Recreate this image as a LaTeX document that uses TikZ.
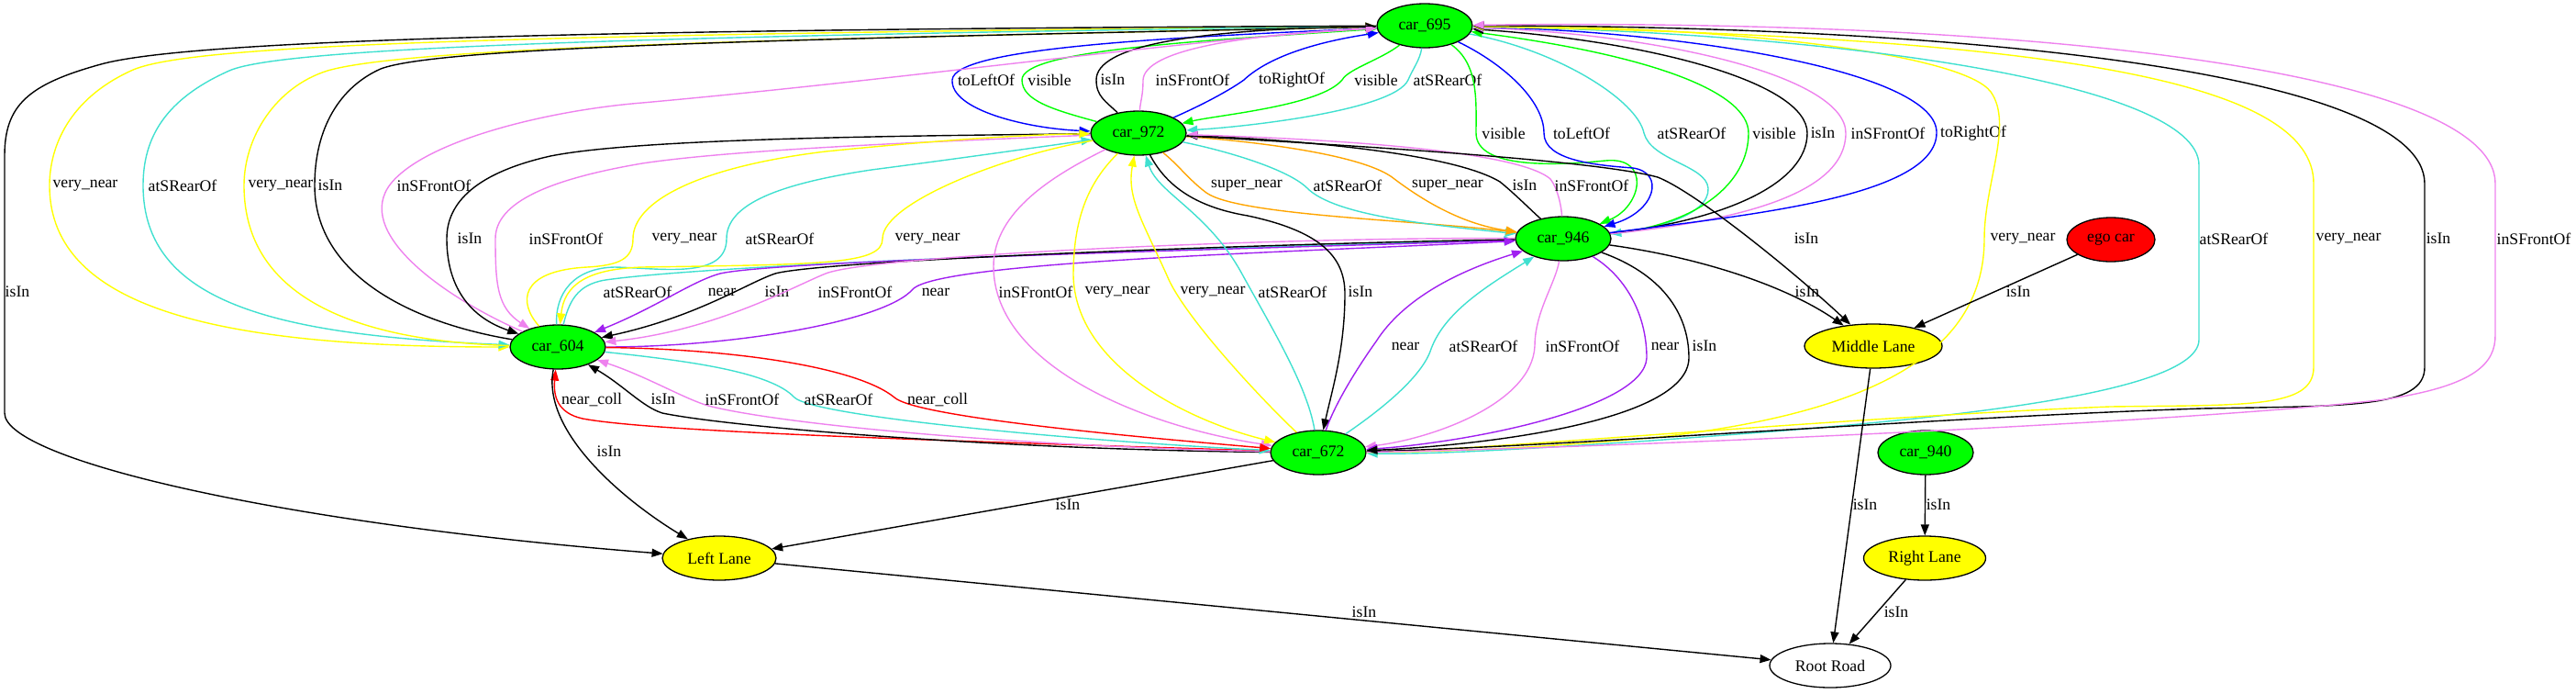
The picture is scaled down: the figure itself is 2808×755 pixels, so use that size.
\documentclass[tikz,border=0pt]{standalone}
\usepackage{fontspec}
\setmainfont{Liberation Serif}
\usetikzlibrary{shapes.geometric,arrows.meta}
\definecolor{gvgreen}{RGB}{0,255,0}
\definecolor{gvblue}{RGB}{0,0,255}
\definecolor{gvturq}{RGB}{64,224,208}
\definecolor{gvviolet}{RGB}{238,130,238}
\definecolor{gvyellow}{RGB}{255,255,0}
\definecolor{gvorange}{RGB}{255,165,0}
\definecolor{gvpurple}{RGB}{160,32,240}
\definecolor{gvred}{RGB}{255,0,0}
\begin{document}
\begin{tikzpicture}[x=1pt,y=-1pt,
  every node/.style={font=\fontsize{17.7}{20}\selectfont},
  gvnode/.style={ellipse, draw=black, text=black, line width=1.3pt, inner sep=0pt, minimum height=48pt},
  carnode/.style={gvnode, fill=gvgreen, minimum width=104pt},
  lanenode/.style={gvnode, fill=gvyellow},
  rel/.style={line width=1.4pt, -{Triangle[length=12pt,width=9pt]}},
  lbl/.style={inner sep=0pt, anchor=center, text=black}]
\useasboundingbox (0,0) rectangle (2808,755);
% nodes
\node[carnode] (c695) at (1553,28) {car\_695};
\node[carnode] (c972) at (1241,145) {car\_972};
\node[carnode] (c946) at (1704,260) {car\_946};
\node[gvnode, fill=gvred, minimum width=96pt] (ego) at (2301,261) {ego car};
\node[carnode] (c604) at (608,378) {car\_604};
\node[lanenode, minimum width=150pt] (mid) at (2042,377) {Middle Lane};
\node[carnode] (c672) at (1437,493) {car\_672};
\node[carnode] (c940) at (2099,493) {car\_940};
\node[lanenode, minimum width=124pt] (leftl) at (784,608) {Left Lane};
\node[lanenode, minimum width=133pt] (rightl) at (2098,608) {Right Lane};
\node[gvnode, fill=white, minimum width=132pt] (root) at (1995,725) {Root Road};
% car_695 <-> car_972
\draw[rel, gvblue] (c695) .. controls (1300,40) and (1040,50) .. (1038,87) .. controls (1036,120) and (1120,140) .. (c972) node[lbl, at={(1075,87)}] (lG1) {toLeftOf};
\draw[rel, gvgreen] (c972) .. controls (1150,120) and (1114,110) .. (1114,87) .. controls (1114,55) and (1300,45) .. (c695) node[lbl, at={(1144,87)}] (lG2) {visible};
\draw[rel] (c972) .. controls (1205,110) and (1195,105) .. (1195,87) .. controls (1195,50) and (1300,32) .. (c695) node[lbl, at={(1213,87)}] (lG3) {isIn};
\draw[rel, gvviolet] (c972) .. controls (1243,110) and (1246,105) .. (1246,87) .. controls (1248,55) and (1350,38) .. (c695) node[lbl, at={(1300,87)}] (lG4) {inSFrontOf};
\draw[rel, gvblue] (c972) .. controls (1320,110) and (1345,95) .. (1356,87) .. controls (1385,60) and (1440,45) .. (c695) node[lbl, at={(1408,87)}] (lG5) {toRightOf};
\draw[rel, gvgreen] (c695) .. controls (1505,65) and (1470,75) .. (1463,87) .. controls (1440,115) and (1330,125) .. (c972) node[lbl, at={(1500,87)}] (lG6) {visible};
\draw[rel, gvturq] (c695) .. controls (1548,65) and (1540,75) .. (1535,87) .. controls (1520,120) and (1360,138) .. (c972) node[lbl, at={(1578,87)}] (lG7) {atSRearOf};
% car_695 <-> car_946
\draw[rel, gvgreen] (c695) .. controls (1612,70) and (1609,110) .. (1609,145) .. controls (1609,185) and (1700,180) .. (1750,175) .. controls (1800,170) and (1790,225) .. (c946) node[lbl, at={(1639,145)}] (lF1) {visible};
\draw[rel, gvblue] (c695) .. controls (1640,70) and (1683,110) .. (1683,145) .. controls (1683,175) and (1740,180) .. (1780,183) .. controls (1815,188) and (1805,230) .. (c946) node[lbl, at={(1724,145)}] (lF2) {toLeftOf};
\draw[rel, gvturq] (c695) .. controls (1700,55) and (1785,110) .. (1792,145) .. controls (1800,175) and (1860,180) .. (1862,205) .. controls (1864,235) and (1800,250) .. (c946) node[lbl, at={(1844,145)}] (lF3) {atSRearOf};
\draw[rel, gvgreen] (c946) .. controls (1850,245) and (1906,200) .. (1906,145) .. controls (1906,100) and (1800,60) .. (c695) node[lbl, at={(1934,145)}] (lF4) {visible};
\draw[rel] (c946) .. controls (1880,240) and (1970,200) .. (1970,145) .. controls (1970,90) and (1800,45) .. (c695) node[lbl, at={(1987,145)}] (lF5) {isIn};
\draw[rel, gvviolet] (c946) .. controls (1900,240) and (2012,210) .. (2012,145) .. controls (2012,85) and (1820,38) .. (c695) node[lbl, at={(2058,145)}] (lF6) {inSFrontOf};
\draw[rel, gvblue] (c946) .. controls (1900,235) and (2110,215) .. (2111,145) .. controls (2113,80) and (1850,35) .. (c695) node[lbl, at={(2151,145)}] (lF7) {toRightOf};
% car_695 <-> car_672 (right)
\draw[rel, gvyellow] (c695) .. controls (1900,28) and (2140,60) .. (2170,100) .. controls (2195,135) and (2163,200) .. (2163,260) .. controls (2163,380) and (2050,450) .. (1800,477) .. controls (1650,490) and (1560,492) .. (c672) node[lbl, at={(2205,260)}] (lH2) {very\_near};
\draw[rel, gvturq] (c695) .. controls (2000,35) and (2397,90) .. (2397,180) -- (2397,370) .. controls (2397,440) and (2000,465) .. (1800,480) .. controls (1650,490) and (1560,495) .. (c672) node[lbl, at={(2435,260)}] (lH3) {atSRearOf};
\draw[rel, gvyellow] (c672) .. controls (1600,492) and (2000,455) .. (2300,443) .. controls (2450,441) and (2522,445) .. (2522,400) -- (2522,200) .. controls (2522,90) and (2250,40) .. (c695) node[lbl, at={(2560,260)}] (lH4) {very\_near};
\draw[rel] (c672) .. controls (1700,487) and (2100,455) .. (2400,445) .. controls (2560,442) and (2643,445) .. (2643,400) -- (2643,200) .. controls (2643,80) and (2150,28) .. (c695) node[lbl, at={(2658,260)}] (lH5) {isIn};
\draw[rel, gvviolet] (c672) .. controls (1700,490) and (2400,460) .. (2600,435) .. controls (2700,420) and (2720,395) .. (2720,365) -- (2720,200) .. controls (2720,75) and (2200,20) .. (c695) node[lbl, at={(2762,260)}] (lH6) {inSFrontOf};
% car_695 <-> car_604 (left)
\draw[rel, gvyellow] (c695) .. controls (500,38) and (200,50) .. (143,77) .. controls (75,108) and (54,160) .. (54,202) .. controls (54,340) and (250,378) .. (c604) node[lbl, at={(93,202)}] (lA1) {very\_near};
\draw[rel, gvturq] (c695) .. controls (600,40) and (300,55) .. (250,77) .. controls (180,108) and (156,150) .. (156,202) .. controls (156,330) and (300,365) .. (c604) node[lbl, at={(199,202)}] (lA2) {atSRearOf};
\draw[rel, gvyellow] (c604) .. controls (400,372) and (266,330) .. (266,202) .. controls (266,150) and (300,95) .. (357,77) .. controls (450,50) and (900,42) .. (c695) node[lbl, at={(306,202)}] (lA3) {very\_near};
\draw[rel] (c604) .. controls (450,352) and (343,300) .. (343,202) .. controls (343,140) and (370,95) .. (415,75) .. controls (480,50) and (900,42) .. (c695) node[lbl, at={(360,202)}] (lA4) {isIn};
\draw[rel, gvviolet] (c604) .. controls (480,322) and (385,252) .. (426,200) .. controls (465,152) and (600,120) .. (700,112) .. controls (1000,85) and (1300,42) .. (c695) node[lbl, at={(473,202)}] (lA5) {inSFrontOf};
\draw[rel] (c695) .. controls (600,32) and (200,45) .. (110,70) .. controls (30,92) and (5,115) .. (5,170) -- (5,450) .. controls (5,500) and (300,570) .. (leftl) node[lbl, at={(19,318)}] (lI10) {isIn};
% car_972 <-> car_946
\draw[rel, gvorange] (c972) .. controls (1285,180) and (1295,195) .. (1315,210) .. controls (1350,235) and (1550,240) .. (c946) node[lbl, at={(1359,202)}] (lS1) {super\_near};
\draw[rel, gvturq] (c972) .. controls (1340,165) and (1405,185) .. (1425,205) .. controls (1455,235) and (1560,245) .. (c946) node[lbl, at={(1469,202)}] (lS2) {atSRearOf};
\draw[rel, gvorange] (c972) .. controls (1380,155) and (1490,170) .. (1520,195) .. controls (1560,225) and (1600,245) .. (c946) node[lbl, at={(1578,202)}] (lS3) {super\_near};
\draw[rel] (c946) .. controls (1670,230) and (1650,210) .. (1635,198) .. controls (1580,165) and (1400,152) .. (c972) node[lbl, at={(1662,202)}] (lS4) {isIn};
\draw[rel, gvviolet] (c946) .. controls (1702,225) and (1698,205) .. (1690,195) .. controls (1650,160) and (1400,150) .. (c972) node[lbl, at={(1735,202)}] (lS5) {inSFrontOf};
\draw[rel] (c972) .. controls (1500,160) and (1740,175) .. (1807,193) .. controls (1850,210) and (1960,300) .. (mid) node[lbl, at={(1969,260)}] (lH1) {isIn};
% car_972 <-> car_604
\draw[rel] (c972) .. controls (1000,148) and (700,150) .. (600,170) .. controls (520,188) and (487,220) .. (487,260) .. controls (487,310) and (510,345) .. (c604) node[lbl, at={(512,260)}] (lB1) {isIn};
\draw[rel, gvviolet] (c972) .. controls (1000,155) and (800,163) .. (700,178) .. controls (600,195) and (540,220) .. (540,260) .. controls (540,310) and (542,335) .. (c604) node[lbl, at={(617,260)}] (lB2) {inSFrontOf};
\draw[rel, gvyellow] (c604) .. controls (565,330) and (565,295) .. (640,291) .. controls (675,289) and (690,282) .. (690,260) .. controls (690,220) and (760,182) .. (900,165) .. controls (1000,155) and (1100,147) .. (c972) node[lbl, at={(746,260)}] (lB3) {very\_near};
\draw[rel, gvturq] (c604) .. controls (605,320) and (625,292) .. (670,291) .. controls (720,292) and (792,305) .. (792,260) .. controls (792,222) and (850,200) .. (950,185) .. controls (1050,172) and (1120,162) .. (c972) node[lbl, at={(850,260)}] (lB4) {atSRearOf};
\draw[rel, gvyellow] (c972) .. controls (1100,168) and (962,220) .. (962,260) .. controls (962,288) and (900,288) .. (700,291) .. controls (640,293) and (615,310) .. (c604) node[lbl, at={(1011,260)}] (lB5) {very\_near};
% car_604 <-> car_946
\draw[rel, gvturq] (c604) .. controls (620,330) and (628,310) .. (660,305) .. controls (800,285) and (1400,268) .. (c946) node[lbl, at={(695,318)}] (lC1) {atSRearOf};
\draw[rel, gvpurple] (c946) .. controls (1400,270) and (850,283) .. (785,298) .. controls (755,306) and (715,335) .. (c604) node[lbl, at={(787,318)}] (lC2) {near};
\draw[rel] (c946) .. controls (1400,265) and (900,283) .. (845,298) .. controls (815,308) and (760,345) .. (c604) node[lbl, at={(847,318)}] (lC3) {isIn};
\draw[rel, gvviolet] (c946) .. controls (1400,258) and (950,278) .. (900,298) .. controls (865,312) and (780,360) .. (c604) node[lbl, at={(932,318)}] (lC4) {inSFrontOf};
\draw[rel, gvpurple] (c604) .. controls (800,378) and (965,350) .. (995,315) .. controls (1025,285) and (1400,275) .. (c946) node[lbl, at={(1020,318)}] (lC5) {near};
% car_972 <-> car_672
\draw[rel, gvviolet] (c972) .. controls (1150,190) and (1083,230) .. (1083,290) .. controls (1083,400) and (1250,465) .. (c672) node[lbl, at={(1129,318)}] (lC6) {inSFrontOf};
\draw[rel, gvyellow] (c972) .. controls (1185,200) and (1170,240) .. (1170,300) .. controls (1172,400) and (1300,460) .. (c672) node[lbl, at={(1218,318)}] (lC7) {very\_near};
\draw[rel, gvyellow] (c672) .. controls (1380,440) and (1290,345) .. (1272,300) .. controls (1245,240) and (1228,215) .. (c972) node[lbl, at={(1322,318)}] (lC8) {very\_near};
\draw[rel, gvturq] (c672) .. controls (1425,420) and (1385,355) .. (1352,295) .. controls (1315,230) and (1262,210) .. (c972) node[lbl, at={(1409,318)}] (lC9) {atSRearOf};
\draw[rel] (c972) .. controls (1270,200) and (1300,225) .. (1360,235) .. controls (1440,252) and (1466,280) .. (1466,320) .. controls (1466,380) and (1452,425) .. (c672) node[lbl, at={(1483,318)}] (lC10) {isIn};
% car_946 <-> car_672
\draw[rel, gvpurple] (c672) .. controls (1455,440) and (1480,400) .. (1500,372) .. controls (1530,325) and (1590,295) .. (c946) node[lbl, at={(1532,377)}] (lD1) {near};
\draw[rel, gvturq] (c672) .. controls (1500,450) and (1550,412) .. (1560,380) .. controls (1575,340) and (1620,312) .. (c946) node[lbl, at={(1617,377)}] (lD2) {atSRearOf};
\draw[rel, gvviolet] (c946) .. controls (1695,310) and (1673,340) .. (1673,377) .. controls (1670,440) and (1560,478) .. (c672) node[lbl, at={(1725,377)}] (lD3) {inSFrontOf};
\draw[rel, gvpurple] (c946) .. controls (1770,300) and (1795,340) .. (1795,390) .. controls (1792,445) and (1600,482) .. (c672) node[lbl, at={(1815,377)}] (lD4) {near};
\draw[rel] (c946) .. controls (1810,298) and (1841,340) .. (1841,390) .. controls (1840,462) and (1600,486) .. (c672) node[lbl, at={(1858,377)}] (lD5) {isIn};
% car_604 <-> car_672
\draw[rel, gvred] (c672) .. controls (1100,482) and (720,472) .. (635,456) .. controls (608,450) and (603,432) .. (c604) node[lbl, at={(645,435)}] (lE1) {near\_coll};
\draw[rel] (c672) .. controls (1100,490) and (800,466) .. (722,450) .. controls (700,443) and (680,420) .. (c604) node[lbl, at={(723,435)}] (lE2) {isIn};
\draw[rel, gvviolet] (c672) .. controls (1100,486) and (850,462) .. (772,442) .. controls (745,434) and (705,410) .. (c604) node[lbl, at={(809,435)}] (lE3) {inSFrontOf};
\draw[rel, gvturq] (c604) .. controls (750,393) and (840,405) .. (866,433) .. controls (890,455) and (1200,482) .. (c672) node[lbl, at={(914,435)}] (lE4) {atSRearOf};
\draw[rel, gvred] (c604) .. controls (800,380) and (935,400) .. (975,433) .. controls (1000,455) and (1250,477) .. (c672) node[lbl, at={(1022,435)}] (lE5) {near\_coll};
% lanes
\draw[rel] (c946) .. controls (1850,280) and (1945,310) .. (mid) node[lbl, at={(1970,318)}] (lI1) {isIn};
\draw[rel] (ego) -- (mid) node[lbl, at={(2200,318)}] (lI2) {isIn};
\draw[rel] (mid) -- (root) node[lbl, at={(2033,550)}] (lI4) {isIn};
\draw[rel] (c940) -- (rightl) node[lbl, at={(2113,550)}] (lI5) {isIn};
\draw[rel] (rightl) -- (root) node[lbl, at={(2067,667)}] (lI6) {isIn};
\draw[rel] (leftl) -- (root) node[lbl, at={(1487,667)}] (lI7) {isIn};
\draw[rel] (c672) -- (leftl) node[lbl, at={(1164,550)}] (lI8) {isIn};
\draw[rel] (c604) .. controls (590,470) and (680,545) .. (leftl) node[lbl, at={(664,492)}] (lI9) {isIn};
\end{tikzpicture}
\end{document}
